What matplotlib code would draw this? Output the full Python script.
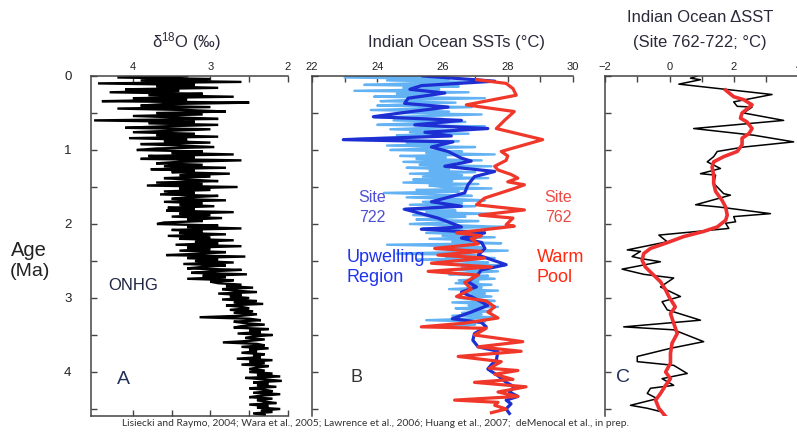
import matplotlib
matplotlib.use("Agg")
import matplotlib.pyplot as plt
import numpy as np
from matplotlib.ticker import FixedLocator

plt.rcParams['font.family'] = ['Liberation Sans', 'DejaVu Sans']
plt.rcParams['mathtext.fontset'] = 'custom'
plt.rcParams['mathtext.rm'] = 'Liberation Sans'
plt.rcParams['mathtext.it'] = 'Liberation Sans:italic'

# ---------------- data ----------------
# Panel A: benthic d18O stack (per mil), ages 0 .. 4.6 Ma every 0.02 Ma
d18o_values = [
    3.3, 4.2, 3.0, 3.9, 2.6, 4.45, 3.2, 3.7, 2.9, 4.1,
    3.4, 4.3, 3.1, 3.8, 2.7, 4.0, 3.3, 4.4, 2.5, 3.6,
    3.9, 3.0, 4.2, 3.3, 2.8, 3.7, 3.1, 4.0, 3.4, 2.9,
    4.5, 3.2, 3.8, 2.9, 3.6, 4.1, 3.0, 3.5, 4.0, 3.2,
    3.7, 2.9, 4.05, 3.3, 3.6, 3.0, 3.9, 3.4, 2.95, 3.7,
    3.95, 3.1, 3.5, 2.7, 3.8, 3.2, 3.9, 2.6, 3.4, 3.7,
    3.1, 3.6, 2.8, 3.77, 3.2, 3.5, 2.75, 3.4, 3.0, 3.6,
    3.3, 2.9, 3.7, 3.1, 3.82, 2.65, 3.4, 3.0, 3.6, 3.2,
    3.65, 2.9, 3.3, 3.5, 2.8, 3.6, 3.1, 3.4, 2.95, 3.55,
    3.2, 3.57, 2.7, 3.4, 3.0, 3.5, 2.85, 3.3, 3.1, 3.6,
    3.69, 2.9, 3.3, 2.6, 3.5, 3.1, 3.4, 2.8, 3.55, 3.0,
    3.4, 2.7, 3.2, 2.9, 3.45, 2.6, 3.3, 3.0, 3.4, 2.8,
    3.1, 3.57, 2.55, 3.3, 2.9, 3.2, 2.7, 3.35, 2.8, 3.1,
    3.3, 2.6, 3.0, 3.25, 2.53, 3.1, 2.8, 3.3, 2.7, 3.0,
    2.9, 2.6, 2.8, 2.45, 2.85, 2.7, 2.4, 2.9, 2.6, 2.75,
    2.5, 2.85, 2.4, 2.7, 2.32, 2.8, 2.6, 2.5, 2.75, 2.45,
    2.7, 2.4, 2.6, 3.14, 2.5, 2.35, 2.7, 2.55, 2.3, 2.6,
    2.7, 2.25, 2.5, 2.35, 2.65, 2.2, 2.45, 2.55, 2.3, 2.5,
    2.84, 2.4, 2.3, 2.6, 2.25, 2.5, 2.4, 2.6, 2.3, 2.45,
    2.35, 2.66, 2.2, 2.5, 2.3, 2.6, 2.25, 2.4, 2.5, 2.3,
    2.5, 2.2, 2.4, 2.1, 2.55, 2.3, 2.08, 2.45, 2.25, 2.4,
    2.15, 2.5, 2.3, 2.2, 2.45, 2.1, 2.35, 2.5, 2.2, 2.4,
    2.3, 2.15, 2.5, 2.25, 2.4, 2.1, 2.35, 2.2, 2.45, 2.3,
    2.3,
]
d18o_age_start, d18o_age_end = 0.0, 4.6

# Panel B: Site 722 high-resolution SST (light blue), 0 .. 3.4 Ma every 0.02 Ma
sst722_hr_values = [
    25.5, 23.0, 26.2, 24.3, 27.0, 25.0, 23.6, 26.5, 24.8, 25.9,
    23.3, 26.8, 24.6, 25.7, 23.9, 27.3, 25.2, 24.1, 26.4, 25.0,
    24.0, 26.9, 25.4, 23.8, 26.2, 24.7, 27.2, 25.5, 23.9, 26.0,
    24.5, 26.7, 25.1, 24.0, 27.3, 25.6, 24.4, 26.3, 25.0, 26.8,
    24.6, 25.8, 23.8, 23.0, 26.5, 24.9, 26.0, 24.3, 27.0, 25.4,
    24.4, 26.6, 25.5, 27.6, 24.7, 26.1, 25.2, 27.2, 24.8, 26.4,
    25.3, 27.5, 24.9, 26.2, 25.6, 27.0, 25.0, 26.6, 25.4, 27.4,
    25.1, 26.3, 24.8, 27.1, 25.6, 26.0, 27.5, 25.2, 26.5, 24.2,
    25.8, 26.9, 24.9, 26.2, 27.3, 25.4, 26.6, 25.0, 27.0, 25.7,
    24.8, 26.4, 25.5, 27.4, 25.1, 26.7, 25.9, 25.2, 27.1, 26.0,
    25.0, 26.6, 27.9, 25.4, 26.2, 27.3, 25.5, 26.8, 26.0, 27.6,
    25.6, 27.0, 26.3, 27.8, 24.3, 26.5, 27.2, 25.8, 28.0, 26.4,
    24.6, 27.0, 26.1, 27.6, 25.2, 26.8, 27.4, 26.3, 27.9, 26.6,
    27.2, 26.3, 27.7, 26.8, 26.2, 27.4, 26.9, 27.6, 26.5, 27.1,
    26.4, 27.5, 26.8, 27.2, 26.2, 27.7, 26.6, 27.3, 26.9, 27.5,
    26.5, 27.1, 27.6, 26.3, 27.3, 26.8, 27.7, 26.4, 27.0, 27.5,
    26.6, 27.2, 26.3, 27.6, 26.9, 25.5, 27.3, 26.6, 27.0, 26.2,
    26.8,
]
sst722_hr_age_start, sst722_hr_age_end = 0.0, 3.4

# Panel B: Site 722 SST (dark blue)
sst722_age = [0.00, 0.07, 0.13, 0.18, 0.23, 0.30, 0.37, 0.42, 0.48, 0.55,
              0.60, 0.66, 0.71, 0.76, 0.81, 0.86, 0.89, 0.96, 1.02, 1.11,
              1.15, 1.22, 1.29, 1.36, 1.47, 1.58, 1.70, 1.76, 1.80, 1.92,
              2.04, 2.07, 2.12, 2.19, 2.25, 2.33, 2.42, 2.55, 2.62, 2.68,
              2.78, 2.85, 2.92, 2.98, 3.10, 3.19, 3.28, 3.33, 3.39, 3.48,
              3.57, 3.66, 3.72, 3.84, 3.90, 3.96, 4.05, 4.14, 4.20, 4.27,
              4.33, 4.38, 4.43, 4.50, 4.56]
sst722_val = [25.4, 27.6, 25.35, 25.0, 26.07, 24.95, 24.84, 26.17, 25.05, 23.88,
              26.58, 25.15, 27.39, 25.46, 26.27, 22.96, 26.32, 25.66, 26.17, 26.58,
              26.88, 26.07, 27.6, 26.98, 26.78, 26.68, 25.66, 26.58, 24.84, 25.86,
              26.58, 25.35, 27.29, 26.58, 27.2, 27.3, 27.09, 27.95, 27.19, 27.09,
              26.78, 27.04, 26.58, 26.88, 27.39, 26.88, 26.3, 27.19, 27.34, 26.98,
              26.93, 27.09, 27.7, 27.65, 27.5, 27.39, 27.7, 27.95, 28.2, 28.05,
              28.31, 27.95, 28.1, 27.95, 28.05]

# Panel B: Site 762 SST (red)
sst762_age = [0.05, 0.10, 0.17, 0.26, 0.39, 0.48, 0.60, 0.71, 0.86, 1.02,
              1.08, 1.14, 1.22, 1.27, 1.33, 1.38, 1.43, 1.47, 1.52, 1.65,
              1.74, 1.81, 1.88, 1.92, 2.01, 2.03, 2.12, 2.16, 2.20, 2.27,
              2.33, 2.37, 2.42, 2.46, 2.53, 2.58, 2.64, 2.69, 2.79, 2.88,
              2.98, 3.04, 3.12, 3.19, 3.27, 3.34, 3.39, 3.41, 3.50, 3.59,
              3.66, 3.72, 3.79, 3.86, 3.95, 3.98, 4.03, 4.10, 4.14, 4.20,
              4.27, 4.33, 4.38, 4.41, 4.45, 4.50, 4.55]
sst762_val = [27.05, 27.95, 28.16, 28.26, 26.73, 28.2, 27.9, 27.65, 29.07, 27.8,
              28.0, 27.95, 27.6, 27.7, 28.1, 28.31, 28.0, 28.51, 28.2, 27.29,
              27.04, 28.51, 27.14, 28.16, 27.95, 28.2, 26.43, 27.19, 26.88, 27.09,
              25.76, 27.19, 25.86, 27.29, 25.66, 27.5, 25.56, 27.09, 26.68, 26.88,
              26.43, 27.34, 27.6, 27.39, 27.7, 26.68, 25.35, 27.34, 26.98, 28.46,
              27.09, 28.41, 26.48, 27.8, 27.44, 28.31, 27.6, 28.16, 26.98, 28.56,
              27.7, 28.31, 26.37, 27.7, 27.6, 27.95, 27.5]

# Panel C: delta SST (762-722), black raw and red smoothed
dsst_age = [0.00, 0.03, 0.05, 0.11, 0.25, 0.35, 0.41, 0.42, 0.50, 0.60,
            0.71, 0.80, 0.89, 0.96, 1.02, 1.09, 1.16, 1.25, 1.32, 1.34,
            1.45, 1.59, 1.61, 1.74, 1.77, 1.86, 1.90, 1.97, 1.99, 2.06,
            2.15, 2.24, 2.35, 2.37, 2.44, 2.47, 2.51, 2.61, 2.68, 2.73,
            2.85, 2.98, 3.05, 3.16, 3.30, 3.39, 3.43, 3.59, 3.68, 3.79,
            3.86, 3.91, 4.02, 4.09, 4.18, 4.22, 4.29, 4.36, 4.45, 4.49,
            4.54, 4.59]
dsst_val = [0.86, 0.65, 0.96, 0.29, 3.18, 1.99, 2.10, 2.56, 2.30, 3.54,
            0.75, 2.61, 3.85, 2.30, 1.48, 1.37, 1.17, 1.58, 0.96, 1.43,
            1.37, 1.68, 1.89, 0.81, 1.53, 3.13, 1.99, 2.05, 1.74, 1.84,
            -0.33, -0.07, -1.31, -0.90, -1.16, -0.85, -0.28, -1.47, -0.80, 0.13,
            -0.28, 0.34, -0.23, -0.07, 0.96, -1.42, 0.13, 1.06, 0.03, -1.00,
            -1.00, 0.13, 0.55, -0.23, 0.13, -0.59, -0.69, -0.38, -1.21, -0.69,
            -0.23, -0.18]
dsst_smooth_age = [0.19, 0.28, 0.32, 0.39, 0.50, 0.57, 0.62, 0.71, 0.78, 0.84,
                   0.93, 1.02, 1.09, 1.16, 1.23, 1.34, 1.45, 1.56, 1.68, 1.77,
                   1.88, 1.95, 2.04, 2.10, 2.17, 2.26, 2.33, 2.40, 2.49, 2.58,
                   2.67, 2.78, 2.89, 2.98, 3.12, 3.21, 3.34, 3.48, 3.61, 3.75,
                   3.88, 4.00, 4.09, 4.18, 4.29, 4.38, 4.49, 4.60]
dsst_smooth_val = [1.74, 1.99, 2.30, 2.56, 2.25, 2.20, 2.40, 2.56, 2.46, 2.25,
                   2.25, 2.10, 1.68, 1.37, 1.32, 1.37, 1.37, 1.43, 1.63, 1.74,
                   1.79, 1.74, 1.48, 1.06, 0.44, -0.12, -0.59, -0.80, -0.85, -0.75,
                   -0.54, -0.28, -0.12, -0.02, 0.18, 0.03, 0.13, 0.24, 0.08, 0.03,
                   0.03, -0.12, 0.03, -0.12, -0.28, -0.43, -0.33, -0.12]

panelA_ticks = [4, 3, 2]
panelB_ticks = [22, 24, 26, 28, 30]
panelC_ticks = [-2, 0, 2, 4]
age_ticks = [0, 1, 2, 3, 4]

caption = ("Lisiecki and Raymo, 2004; Wara et al., 2005; Lawrence et al., 2006; "
           "Huang et al., 2007;  deMenocal et al., in prep.")

# ---------------- figure ----------------
W, H = 797, 432
fig = plt.figure(figsize=(W / 100, H / 100), dpi=100)

def fx(x):
    return x / W

def fy(y):
    return 1 - y / H

top_px, bot_px = 76, 416.4
def make_ax(x0, x1):
    return fig.add_axes([fx(x0), fy(bot_px), (x1 - x0) / W, (bot_px - top_px) / H])

spine_col = '#444444'
lab_col = '#222222'

def style(ax, spines):
    for s in ['left', 'right', 'top', 'bottom']:
        ax.spines[s].set_visible(s in spines)
        ax.spines[s].set_color(spine_col)
        ax.spines[s].set_linewidth(1.1)
    ax.set_ylim(4.6, 0)
    ax.yaxis.set_minor_locator(FixedLocator([0.5, 1.5, 2.5, 3.5, 4.5]))
    ax.set_yticks(age_ticks)
    ax.tick_params(axis='both', which='both', direction='in', length=4,
                   width=1, colors=spine_col, labelcolor=lab_col)
    ax.tick_params(axis='x', which='both', top=True, bottom=False,
                   labeltop=True, labelbottom=False, labelsize=8, pad=3)
    ax.tick_params(axis='y', which='both', left=True, right=False)
    ax.patch.set_alpha(0)

# Panel A
axA = make_ax(91, 288)
style(axA, ['left', 'top', 'bottom'])
axA.set_xlim(4.54, 2.0)
axA.set_xticks(panelA_ticks)
axA.xaxis.set_minor_locator(FixedLocator([3.5, 2.5]))
axA.tick_params(axis='x', which='both', bottom=True)
axA.tick_params(axis='y', labelsize=9.5, pad=14)
d18o_age = np.linspace(d18o_age_start, d18o_age_end, len(d18o_values))
axA.plot(d18o_values, d18o_age, color='black', lw=1.7, solid_joinstyle='miter')

# Panel B
axB = make_ax(312, 573)
style(axB, ['left', 'top'])
axB.set_xlim(22, 30)
axB.set_xticks(panelB_ticks)
axB.xaxis.set_minor_locator(FixedLocator([23, 25, 27, 29]))
axB.tick_params(axis='y', labelleft=False)
hr_age = np.linspace(sst722_hr_age_start, sst722_hr_age_end, len(sst722_hr_values))
axB.plot(sst722_hr_values, hr_age, color='#62b2f4', lw=1.7)
axB.plot(sst722_val, sst722_age, color='#1d2fd2', lw=2.3)
axB.plot(sst762_val, sst762_age, color='#f0382a', lw=2.3)

# Panel C
axC = make_ax(605, 798.5)
style(axC, ['left', 'top'])
axC.set_xlim(-2, 4)
axC.set_xticks(panelC_ticks)
axC.xaxis.set_minor_locator(FixedLocator([-1, 1, 3]))
axC.tick_params(axis='y', labelleft=False)
axC.plot(dsst_val, dsst_age, color='black', lw=1.1)
axC.plot(dsst_smooth_val, dsst_smooth_age, color='#ee3030', lw=2.6)

# ---------------- text ----------------
title_col = '#2a2a3a'
fig.text(fx(187), fy(42), r'δ$^{18}$O (‰)', ha='center', va='center',
         fontsize=12, color=title_col)
fig.text(fx(456), fy(42), 'Indian Ocean SSTs (°C)', ha='center', va='center',
         fontsize=12, color=title_col)
fig.text(fx(700), fy(17), 'Indian Ocean ΔSST', ha='center', va='center',
         fontsize=12, color=title_col)
fig.text(fx(700), fy(42), '(Site 762-722; °C)', ha='center', va='center',
         fontsize=12, color=title_col)

fig.text(fx(29), fy(250), 'Age', ha='center', va='center', fontsize=14.5, color=lab_col)
fig.text(fx(30), fy(272), '(Ma)', ha='center', va='center', fontsize=14, color=lab_col)

fig.text(fx(133), fy(285), 'ONHG', ha='center', va='center', fontsize=12, color='#1c2440')
fig.text(fx(123), fy(379), 'A', ha='center', va='center', fontsize=14, color='#22305a')
fig.text(fx(357), fy(377), 'B', ha='center', va='center', fontsize=13, color='#333333')
fig.text(fx(623), fy(378), 'C', ha='center', va='center', fontsize=14, color='#22305a')

fig.text(fx(372), fy(197), 'Site', ha='center', va='center', fontsize=11.5, color='#4f4fd6')
fig.text(fx(372), fy(218), '722', ha='center', va='center', fontsize=11.5, color='#4f4fd6')
fig.text(fx(558), fy(197), 'Site', ha='center', va='center', fontsize=11.5, color='#ee4a44')
fig.text(fx(558), fy(218), '762', ha='center', va='center', fontsize=11.5, color='#ee4a44')

fig.text(fx(347), fy(258), 'Upwelling', ha='left', va='center', fontsize=13, color='#1f33ee')
fig.text(fx(347), fy(278), 'Region', ha='left', va='center', fontsize=13, color='#1f33ee')
fig.text(fx(537), fy(258), 'Warm', ha='left', va='center', fontsize=13, color='#ff2a10')
fig.text(fx(537), fy(278), 'Pool', ha='left', va='center', fontsize=13, color='#ff2a10')

fig.text(fx(375), fy(424), caption, ha='center', va='center', fontsize=7.35,
         family=['Lato', 'DejaVu Sans'], color='#333333')

fig.savefig('out.png', dpi=100)
